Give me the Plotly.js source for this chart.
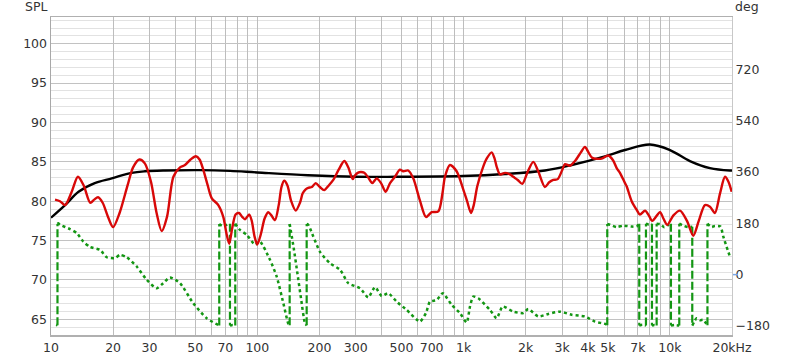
<!DOCTYPE html>
<html><head><meta charset="utf-8">
<script src="https://cdn.plot.ly/plotly-3.0.1.min.js"></script>
<style>html,body{margin:0;padding:0;background:#fff}#chart{width:800px;height:358px}</style>
</head><body><div id="chart"></div>
<script>
// SPL (red) response
const splFreq = [10.46,11.05,11.7,12.6,13.5,14.4,15.5,16.2,16.9,17.8,18.9,20.0,21.5,23.5,25.0,26.8,28.5,30.5,32.5,34.4,36.5,39.2,42.2,44.6,47.5,50.4,52.5,54.7,57.5,60.1,64.7,68.4,71,73.1,75.5,78.5,81.5,84.5,87.1,91.4,94,97,100,104,108.5,113,117,121.8,127,131,135,140,146,153.5,161,166,171.6,176.6,184,191.9,201,211,222,233.5,248,264,276,290,298,306.6,318,330,345,361,379,398,419,440,465,491,510,539,570,614,657,700,754,790,812,859,925,996,1040,1086,1120,1165,1245,1300,1368,1410,1446,1501,1587,1678,1741,1830,1925,2050,2176,2300,2478,2600,2721,2858,3000,3100,3278,3467,3700,3874,4030,4205,4669,5025,5300,5521,5727,6057,6170,6527,6902,7161,7572,7900,8212,8950,9300,9710,10400,11190,12100,12980,13800,14790,15640,16520,17500,18490,19200,19930];
const splValues = [80.2,80.0,79.5,81.2,83.1,82.0,79.8,80.2,80.5,79.8,78.0,76.7,78.5,82.0,84.3,85.3,84.8,82.5,78.5,76.2,78.0,83.1,84.3,84.6,85.3,85.7,85.3,84.0,82.0,80.4,79.5,78.0,75.8,74.6,76.5,78.3,78.5,78.0,77.7,78.3,77.5,75.5,74.5,75.8,77.8,78.6,78.2,77.6,79.5,81.8,82.6,82.0,80.0,78.8,79.8,81.0,81.5,81.7,81.8,82.3,81.8,81.4,82.0,82.7,84.0,85.1,84.3,82.8,83.3,83.6,83.7,83.6,83.0,82.3,82.9,82.3,81.2,82.3,83.1,84.0,83.8,83.9,82.9,80.1,78.0,78.6,78.7,81.0,83.1,84.6,83.8,81.5,80.0,78.5,79.5,81.9,84.4,85.5,86.2,85.5,84.4,83.4,83.6,83.4,83.1,82.7,82.2,83.8,85.0,83.8,81.8,82.4,82.7,82.8,83.9,84.7,84.5,85.1,86.2,86.9,86.2,85.5,85.4,85.8,85.2,84.2,83.6,82.3,81.9,80.0,78.9,78.3,78.8,78.2,77.5,78.6,77.8,77.0,78.2,78.8,77.5,75.6,77.5,79.5,79.3,78.5,81.0,83.1,82.5,81.2];

// Smoothed (black) curve
const avgFreq = [10,11.7,13.6,16.3,19.7,24.6,28.5,35.7,52.6,73.8,100,176,298,465,995,1587,2478,3342,4842,6057,8005,10007,12503,15640,19540,20000];
const avgValues = [77.9,79.5,81.2,82.3,82.9,83.6,83.8,83.9,83.95,83.85,83.65,83.3,83.1,83.1,83.2,83.45,83.9,84.6,85.7,86.5,87.2,86.5,85.1,84.2,83.9,83.9];

// Phase (green), wrapped to +/-180 deg
const phaseFreq = [10.6,10.75,10.75,10.85,11.05,12.36,13.32,14.34,15.46,17.28,18.62,20.43,21.6,23.27,26.03,29.1,32.5,35.0,37.7,42.2,48.9,56.8,64.7,65.4,65.4,68.4,71,73.2,73.7,73.7,76,78.2,78.2,82.4,88.8,97.5,103,115.2,124.2,133.7,141.3,143.5,143.5,150,156.6,163,170.3,173.5,173.5,176.6,180,201,225,252,276,315,345,372,401,431,474,530,614,657,687,741,792,875,960,1035,1074,1114,1178,1342,1446,1547,1741,1947,2058,2301,2573,2932,3342,3874,4334,4898,4971,4971,5140,5521,5943,6490,6902,7104,7104,7350,7655,7655,7900,8185,8185,8400,8625,8625,9000,9400,9800,10116,10116,10500,11103,11103,11600,12200,12836,12836,13484,14000,14510,15207,15207,15939,16520,17580,18140,19540];
const phaseValues = [-176,-178,178,180,175,160,146,116,97,87,61,58,69.5,61,28.5,-18,-48,-30,-10,-30,-100,-153,-177,-179,178,170,175,179,179,-179,-177,-179,179,157,140,105,116,52,-7,-100,-172,-178,178,95,3,-85,-171,-178,178,175,163,81,40,17,-30,-48,-80,-44,-75,-65,-95,-124,-165,-135,-95,-89,-65,-106,-135,-168,-112,-77,-83,-124,-153,-112,-130,-135,-121,-147,-138,-130,-141,-147,-165,-174,-178,178,175,167,172,169,169,179,-179,-176,-179,179,176,179,-179,-177,-179,179,177,166,174,179,-179,-177,-179,179,172,167,168,-179,-153,-160,-159,-178,179,167,171,169,134,63];

// Axis ticks
const gridFreqs = [10,20,30,40,50,60,70,80,90,100,200,300,400,500,600,700,800,900,1000,2000,3000,4000,5000,6000,7000,8000,9000,10000,20000];
const tickLabels = ['10','20','30','','50','','70','','','100','200','300','','500','','700','','','1k','2k','3k','4k','5k','','7k','','','10k','20kHz'];
const decadeFreqs = [10,100,1000,10000];
const phaseTicks = [-180,0,180,360,540,720];

// split phase into continuous (dotted) runs and wrap jumps (dashed)
const dotX = [], dotY = [], jumpX = [], jumpY = [];
for (let i = 0; i < phaseFreq.length; i++) {
  if (i > 0 && Math.abs(phaseValues[i] - phaseValues[i-1]) > 180) {
    dotX.push(null); dotY.push(null);
    jumpX.push(phaseFreq[i-1], phaseFreq[i], null);
    jumpY.push(phaseValues[i-1], phaseValues[i], null);
  }
  dotX.push(phaseFreq[i]); dotY.push(phaseValues[i]);
}

const green = '#139613';
const xr = [1, Math.log10(20000)];
const traces = [
  {x: dotX, y: dotY, xaxis:'x', yaxis:'y', mode:'lines', connectgaps:false,
   line:{color:green, width:2.5, dash:'dot', shape:'spline', smoothing:0.6}, hoverinfo:'skip'},
  {x: jumpX, y: jumpY, xaxis:'x', yaxis:'y', mode:'lines', connectgaps:false,
   line:{color:green, width:2.2, dash:'8px,3px'}, hoverinfo:'skip'},
  {x: avgFreq, y: avgValues, xaxis:'x', yaxis:'y2', mode:'lines',
   line:{color:'#000', width:2.4, shape:'spline', smoothing:1}},
  {x: splFreq, y: splValues, xaxis:'x', yaxis:'y2', mode:'lines',
   line:{color:'#d80808', width:2.4, shape:'spline', smoothing:0.8}}
];

const layout = {
  width:800, height:358,
  margin:{l:51, r:68, t:17, b:23, pad:0},
  paper_bgcolor:'#fff', plot_bgcolor:'#fff',
  showlegend:false,
  font:{family:'DejaVu Sans', size:12.5, color:'#333'},
  xaxis:{type:'log', range:xr, tickvals:gridFreqs, ticktext:tickLabels,
    gridcolor:'#bdbdbd', gridwidth:1, showline:true, linecolor:'#b0b0b0', linewidth:1.5, mirror:true,
    ticks:'', zeroline:false, fixedrange:true},
  xaxis2:{type:'log', overlaying:'x', anchor:'y', range:xr, tickvals:decadeFreqs,
    showticklabels:false, gridcolor:'#8c8c8c', gridwidth:1, showline:false, ticks:'', zeroline:false},
  yaxis:{range:[-212, 904.6], side:'right', tickvals:phaseTicks, showgrid:false, zeroline:false,
    ticks:'', showline:true, linecolor:'#c8c8c8', linewidth:1},
  yaxis2:{overlaying:'y', side:'left', range:[63, 103.4], tick0:0, dtick:5,
    gridcolor:'#c2c2c2', gridwidth:1,
    minor:{dtick:1, showgrid:true, gridcolor:'#e2e2e2', gridwidth:1},
    zeroline:false, ticks:'', showline:true, linecolor:'#a8a8a8', linewidth:1.5},
  annotations:[
    {text:'SPL', xref:'paper', yref:'paper', x:0, y:1, xanchor:'right', yanchor:'bottom', xshift:-2, yshift:1, showarrow:false},
    {text:'deg', xref:'paper', yref:'paper', x:1, y:1, xanchor:'left', yanchor:'bottom', xshift:1, yshift:1, showarrow:false}
  ],
  shapes:[
    {type:'line', xref:'paper', yref:'y', xsizemode:'pixel', xanchor:1, x0:1, x1:6, y0:0, y1:0,
     line:{color:'#7aa6e6', width:1.5}}
  ]
};

Plotly.newPlot('chart', traces, layout, {staticPlot:true, displayModeBar:false});
</script>
</body></html>
